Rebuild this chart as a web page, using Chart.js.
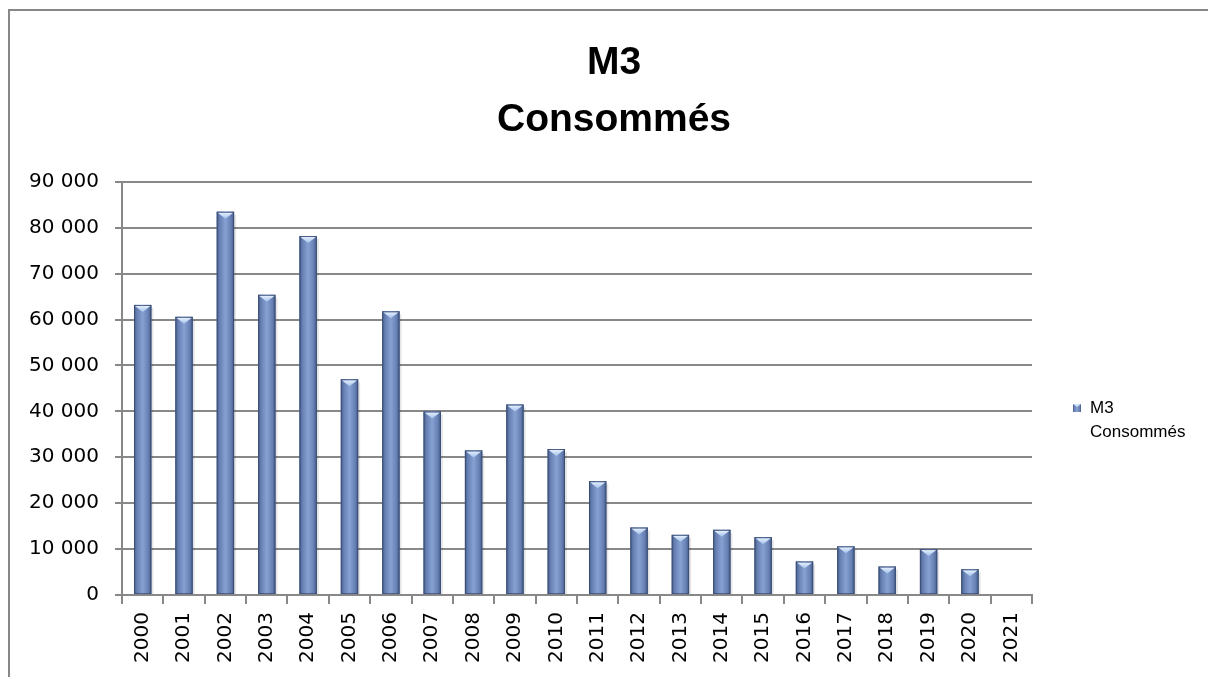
<!DOCTYPE html>
<html>
<head>
<meta charset="utf-8">
<script src="https://cdn.jsdelivr.net/npm/chart.js@4"></script>
<style>
  html, body { margin: 0; padding: 0; background: #fff; overflow: hidden; }
  #frame {
    position: absolute; left: 8px; top: 9px;
    width: 1198px; height: 666px;
    border-left: 2px solid #878787; border-top: 2px solid #878787;
  }
  #chart { display: block; }
</style>
</head>
<body>
<div id="frame"><canvas id="chart" width="1198" height="666"></canvas></div>
<script>
// values
const years = ['2000', '2001', '2002', '2003', '2004', '2005', '2006', '2007', '2008', '2009', '2010',
  '2011', '2012', '2013', '2014', '2015', '2016', '2017', '2018', '2019', '2020', '2021'];
const m3Consommes = [63200, 60600, 83500, 65400, 78200, 47000, 61800, 40000, 31500, 41500, 31800,
  24800, 14700, 13100, 14200, 12600, 7300, 10600, 6200, 10000, 5600, null];
const seriesLabel = 'M3 Consommés';
const titleLines = ['M3', 'Consommés'];
const yMax = 90000;
const yStep = 10000;

const gridColor = '#888888';
const tickFont = { family: 'DejaVu Sans', size: 20 };

// paint bars like the bevelled office style
function barGradient(ctx, x0, x1) {
  const g = ctx.createLinearGradient(x0, 0, x1, 0);
  g.addColorStop(0, '#465d88');
  g.addColorStop(0.18, '#6881b4');
  g.addColorStop(0.5, '#87a1d3');
  g.addColorStop(0.82, '#6881b4');
  g.addColorStop(1, '#435a85');
  return g;
}

const bevelBars = {
  id: 'bevelBars',
  afterDatasetsDraw(chart) {
    const ctx = chart.ctx;
    const meta = chart.getDatasetMeta(0);
    ctx.save();
    meta.data.forEach((bar, i) => {
      if (m3Consommes[i] == null) return;
      const { x, y, base, width } = bar.getProps(['x', 'y', 'base', 'width'], true);
      const x0 = x - width / 2, x1 = x + width / 2;
      // soft shadow on the right
      ctx.fillStyle = 'rgba(0,0,0,0.10)';
      ctx.fillRect(x1, y + 3, 2, base - y - 3);
      ctx.fillStyle = barGradient(ctx, x0, x1);
      ctx.fillRect(x0, y, width, base - y);
      // top bevel triangle
      const th = Math.min(7, (base - y) / 2);
      const tg = ctx.createLinearGradient(0, y, 0, y + th);
      tg.addColorStop(0, '#eef6ff');
      tg.addColorStop(1, '#a3c2ec');
      ctx.fillStyle = tg;
      ctx.beginPath();
      ctx.moveTo(x0 + 1, y + 1);
      ctx.lineTo(x1 - 1, y + 1);
      ctx.lineTo(x, y + th);
      ctx.closePath();
      ctx.fill();
      ctx.strokeStyle = 'rgba(50,68,105,0.65)';
      ctx.lineWidth = 1;
      ctx.strokeRect(x0 + 0.5, y + 0.5, width - 1, base - y - 1);
    });
    ctx.restore();
  }
};

// legend on the right, label wrapped on two lines
const sideLegend = {
  id: 'sideLegend',
  afterDraw(chart) {
    const ctx = chart.ctx;
    const label = chart.data.datasets[0].label;
    const cut = label.indexOf(' ');
    const lines = [label.slice(0, cut), label.slice(cut + 1)];
    const bx = 1063, by = 397;
    ctx.save();
    ctx.fillStyle = barGradient(ctx, bx, bx + 8);
    ctx.fillRect(bx, by - 4, 8, 8);
    ctx.fillStyle = '#cfe3fb';
    ctx.beginPath();
    ctx.moveTo(bx, by - 4); ctx.lineTo(bx + 8, by - 4); ctx.lineTo(bx + 4, by - 1);
    ctx.closePath(); ctx.fill();
    ctx.fillStyle = '#000';
    ctx.font = '17px "Liberation Sans"';
    ctx.textBaseline = 'middle';
    ctx.fillText(lines[0], bx + 17, by);
    ctx.fillText(lines[1], bx + 17, by + 24);
    ctx.restore();
  }
};

new Chart(document.getElementById('chart'), {
  type: 'bar',
  data: {
    labels: years,
    datasets: [{
      label: seriesLabel,
      data: m3Consommes,
      backgroundColor: '#7088bb',
      borderWidth: 0,
      barPercentage: 0.42,
      categoryPercentage: 1
    }]
  },
  options: {
    responsive: false,
    animation: false,
    layout: { padding: { left: 10, right: 0, top: 0, bottom: 0 } },
    plugins: {
      legend: { display: false },
      tooltip: { enabled: false },
      title: {
        display: true,
        text: titleLines,
        color: '#000',
        font: { family: 'Liberation Sans', size: 39, weight: 'bold', lineHeight: 1.46 },
        padding: { top: 24, bottom: 33 }
      }
    },
    scales: {
      x: {
        grid: {
          offset: true,
          drawOnChartArea: false,
          drawTicks: true,
          tickLength: 9,
          color: gridColor,
          lineWidth: 2
        },
        border: { color: gridColor, width: 2 },
        ticks: {
          color: '#000',
          font: tickFont,
          minRotation: 90,
          maxRotation: 90,
          padding: 8,
          autoSkip: false
        },
        afterFit(scale) { scale.height = 82; }
      },
      y: {
        min: 0,
        max: yMax,
        grid: {
          color: gridColor,
          lineWidth: 2,
          tickLength: 7
        },
        border: { color: gridColor, width: 2 },
        ticks: {
          stepSize: yStep,
          color: '#000',
          font: tickFont,
          padding: 16,
          callback: v => v.toLocaleString('fr-FR').replace(/\s/g, ' ')
        },
        afterFit(scale) { scale.width = 102; }
      },
      // empty room on the right for the legend
      side: {
        position: 'right',
        min: 0,
        max: 1,
        grid: { display: false },
        border: { display: false },
        ticks: { display: false },
        afterFit(scale) { scale.width = 176; }
      }
    }
  },
  plugins: [bevelBars, sideLegend]
});
</script>
</body>
</html>
